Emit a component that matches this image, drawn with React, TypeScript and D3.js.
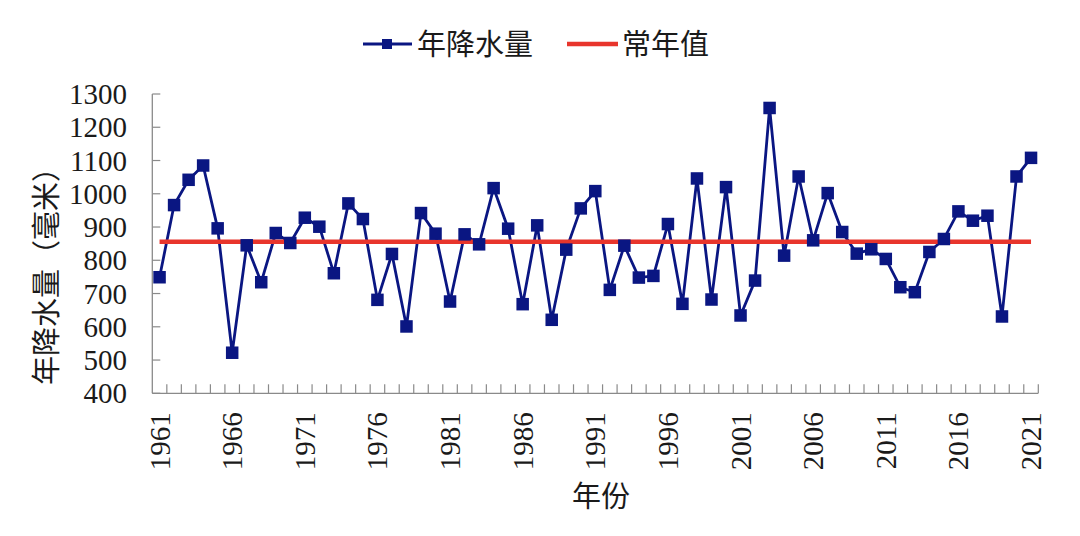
import React from "react";
import * as d3 from "d3";

const years: number[] = Array.from({ length: 61 }, (_, i) => 1961 + i);
const precip: number[] = [
  749, 966, 1042, 1085, 896, 522, 845, 734, 882, 852,
  928, 901, 761, 971, 924, 681, 819, 601, 942, 880,
  676, 878, 848, 1017, 895, 668, 905, 621, 832, 956,
  1008, 711, 844, 748, 753, 909, 669, 1046, 682, 1020,
  634, 739, 1258, 814, 1052, 860, 1002, 885, 820, 833,
  804, 719, 704, 825, 864, 947, 919, 934, 631, 1052,
  1108,
];
const normalValue = 856;
const yTicks: number[] = [400, 500, 600, 700, 800, 900, 1000, 1100, 1200, 1300];
const xLabelYears: number[] = [1961, 1966, 1971, 1976, 1981, 1986, 1991, 1996, 2001, 2006, 2011, 2016, 2021];
const seriesName = "年降水量";
const normalName = "常年值";
const yTitle = "年降水量（毫米）";
const xTitle = "年份";

const W = 1080;
const H = 536;
const left = 152.3;
const right = 1038.3;
const top = 94;
const bottom = 393.3;

const NAVY = "#0a1682";
const RED = "#e8352c";
const AXIS = "#8a8a8a";
const TEXT = "#1a1a1a";
const SERIF = "Liberation Serif";
const CJK = "Noto Sans CJK SC";

export default function App() {
  const x = d3.scaleBand<number>().domain(years).range([left, right]).padding(0);
  const y = d3.scaleLinear().domain([400, 1300]).range([bottom, top]);
  const cx = (yr: number) => (x(yr) as number) + x.bandwidth() / 2;

  const line = d3
    .line<number>()
    .x((_, i) => cx(years[i]))
    .y((d) => y(d));

  const ms = 12.5;
  const serifStyle = { fontFamily: SERIF };
  const cjkStyle = { fontFamily: CJK };

  return (
    <svg
      width={W}
      height={H}
      style={{ position: "absolute", left: 0, top: 0, background: "#fff" }}
    >
      <rect x={0} y={0} width={W} height={H} fill="#fff" />
      {/* axes */}
      <line x1={left} x2={left} y1={top} y2={bottom} stroke={AXIS} strokeWidth={1.3} />
      <line x1={left} x2={right} y1={bottom} y2={bottom} stroke={AXIS} strokeWidth={1.3} />
      {yTicks.map((t) => (
        <g key={"yt" + t}>
          <line x1={left} x2={left + 8} y1={y(t)} y2={y(t)} stroke={AXIS} strokeWidth={1.2} />
          <text
            x={127}
            y={y(t) + 10}
            textAnchor="end"
            style={serifStyle}
            fontSize={29}
            fill={TEXT}
          >
            {t}
          </text>
        </g>
      ))}
      {years.map((yr) => (
        <line
          key={"xt" + yr}
          x1={(x(yr) as number) + x.bandwidth()}
          x2={(x(yr) as number) + x.bandwidth()}
          y1={bottom}
          y2={bottom - 9}
          stroke={AXIS}
          strokeWidth={1.2}
        />
      ))}
      {xLabelYears.map((yr) => (
        <text
          key={"xl" + yr}
          transform={`translate(${cx(yr) + 10},${bottom + 19}) rotate(-90)`}
          textAnchor="end"
          style={serifStyle}
          fontSize={29}
          fill={TEXT}
        >
          {yr}
        </text>
      ))}
      <text
        x={601}
        y={507}
        textAnchor="middle"
        style={cjkStyle}
        fontSize={29}
        fill={TEXT}
      >
        {xTitle}
      </text>
      <text
        transform={`translate(57,${269}) rotate(-90)`}
        textAnchor="middle"
        style={cjkStyle}
        fontSize={29}
        fill={TEXT}
      >
        {yTitle}
      </text>

      {/* series */}
      <path d={line(precip) || ""} fill="none" stroke={NAVY} strokeWidth={2.8} strokeLinejoin="miter" />
      <line
        x1={cx(years[0])}
        x2={cx(years[years.length - 1])}
        y1={y(normalValue)}
        y2={y(normalValue)}
        stroke={RED}
        strokeWidth={4.5}
      />
      {precip.map((v, i) => (
        <rect
          key={"m" + i}
          x={cx(years[i]) - ms / 2}
          y={y(v) - ms / 2}
          width={ms}
          height={ms}
          fill={NAVY}
        />
      ))}

      {/* legend */}
      <line x1={363} x2={412} y1={44} y2={44} stroke={NAVY} strokeWidth={2.8} />
      <rect x={382} y={39} width={10} height={10} fill={NAVY} />
      <text x={417} y={55} style={cjkStyle} fontSize={29} fill={TEXT}>
        {seriesName}
      </text>
      <line x1={567} x2={618} y1={44} y2={44} stroke={RED} strokeWidth={4.5} />
      <text x={622} y={55} style={cjkStyle} fontSize={29} fill={TEXT}>
        {normalName}
      </text>
    </svg>
  );
}
